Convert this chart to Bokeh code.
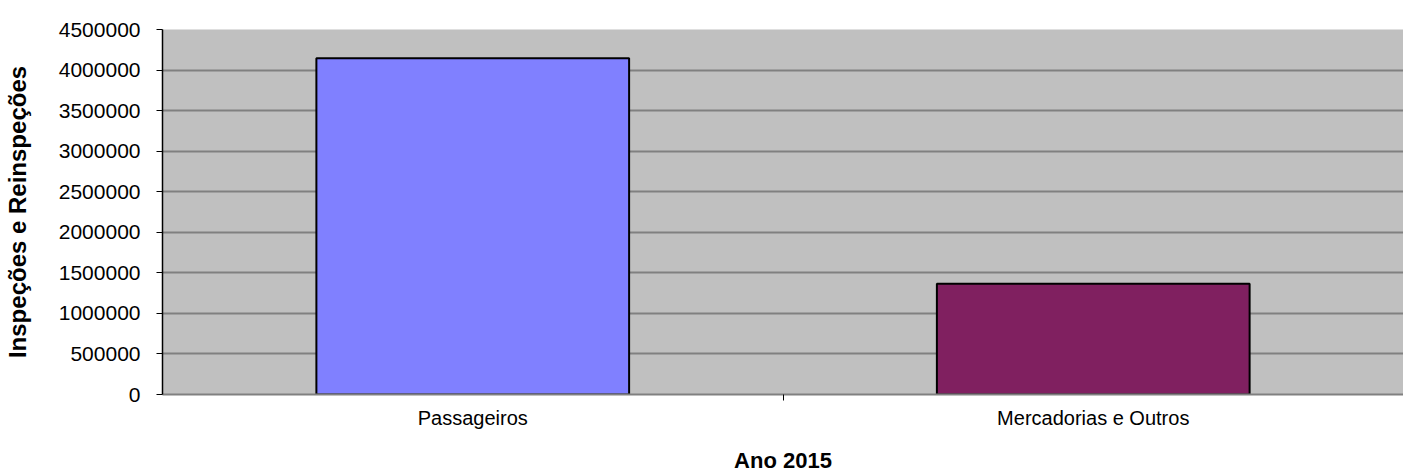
from bokeh.plotting import figure
from bokeh.models import (Range1d, LinearAxis, FixedTicker, NumeralTickFormatter,
                          ColumnDataSource, Grid)
from bokeh.embed import file_html
from bokeh.resources import INLINE

categories = ["Passageiros", "Mercadorias e Outros"]
values = [4145000, 1365000]
colors = ["#8080ff", "#802060"]
y_ticks = [0, 500000, 1000000, 1500000, 2000000, 2500000, 3000000, 3500000, 4000000, 4500000]

FONT = "Liberation Sans"

# category slots on a numeric axis: slot i spans [i, i+1], centre at i+0.5
centers = [i + 0.5 for i in range(len(categories))]
boundaries = [i for i in range(1, len(categories))]

src = ColumnDataSource(dict(x=centers, val=values, color=colors))

p = figure(width=1403, height=475, output_backend="svg", toolbar_location=None,
           x_range=Range1d(0, len(categories)),
           y_range=Range1d(0, 4500000),
           x_axis_location=None, y_axis_location=None,
           min_border_left=161, min_border_right=0, min_border_top=29, min_border_bottom=20)

p.background_fill_color = "#c0c0c0"
p.border_fill_color = "white"
p.outline_line_color = None

p.vbar(x="x", top="val", width=0.504, source=src, fill_color="color",
       line_color="black", line_width=2)

# y axis
yax = LinearAxis(ticker=FixedTicker(ticks=y_ticks, minor_ticks=[]),
                 formatter=NumeralTickFormatter(format="0"))
yax.axis_label = "Inspeções e Reinspeções"
yax.axis_label_text_font = FONT
yax.axis_label_text_font_style = "bold"
yax.axis_label_text_font_size = "24px"
yax.axis_label_text_color = "black"
yax.axis_label_standoff = 25
yax.major_label_text_font = FONT
yax.major_label_text_font_size = "21px"
yax.major_label_text_color = "black"
yax.major_label_standoff = 16
yax.axis_line_color = "black"
yax.axis_line_width = 1.5
yax.major_tick_line_color = "black"
yax.major_tick_out = 6
yax.major_tick_in = 0
yax.minor_tick_line_color = None
p.add_layout(yax, "left")

# separator tick axis (category boundary)
sepax = LinearAxis(ticker=FixedTicker(ticks=boundaries, minor_ticks=[]),
                   major_label_overrides={b: "" for b in boundaries})
sepax.axis_line_color = "#808080"
sepax.axis_line_width = 2
sepax.major_tick_line_color = "black"
sepax.major_tick_out = 6
sepax.major_tick_in = 0
sepax.minor_tick_line_color = None
sepax.major_label_text_font_size = "1px"
sepax.major_label_standoff = 0
p.add_layout(sepax, "below")

# category label axis
xax = LinearAxis(ticker=FixedTicker(ticks=centers, minor_ticks=[]),
                 major_label_overrides={c: n for c, n in zip(centers, categories)})
xax.axis_line_color = None
xax.major_tick_line_color = None
xax.major_tick_out = 0
xax.major_tick_in = 0
xax.minor_tick_line_color = None
xax.major_label_standoff = 6
xax.major_label_text_font = FONT
xax.major_label_text_font_size = "20px"
xax.major_label_text_color = "black"
xax.axis_label = "Ano 2015"
xax.axis_label_text_font = FONT
xax.axis_label_text_font_style = "bold"
xax.axis_label_text_font_size = "22px"
xax.axis_label_text_color = "black"
xax.axis_label_standoff = 16
p.add_layout(xax, "below")

p.xgrid.visible = False
p.ygrid.visible = False
g = Grid(dimension=1, ticker=yax.ticker, grid_line_color="#808080", grid_line_width=2)
p.add_layout(g)

open("out.html", "w").write(file_html(p, INLINE))
